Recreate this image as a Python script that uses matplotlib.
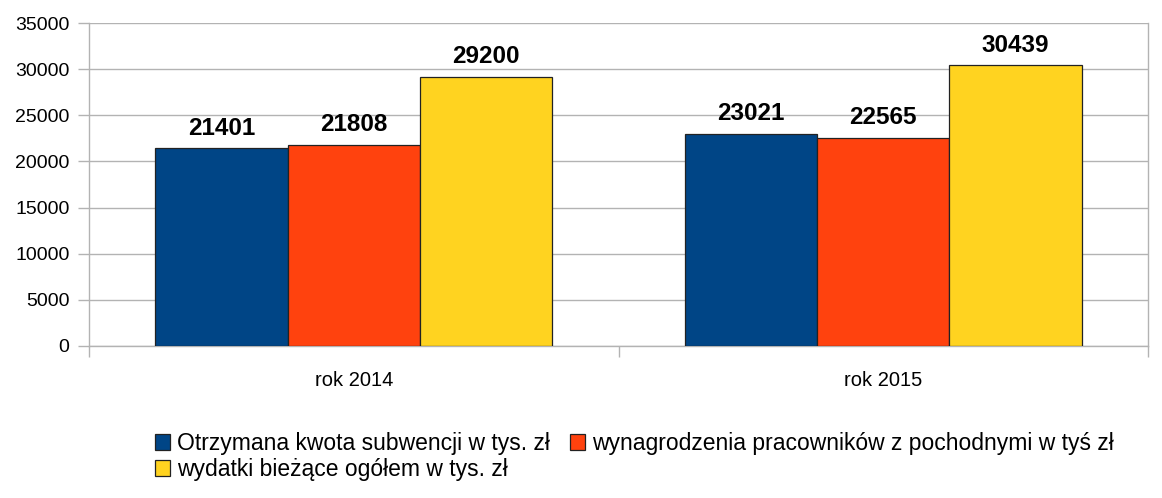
import numpy as np
import matplotlib.pyplot as plt

plt.rcParams["font.family"] = ["Liberation Sans", "DejaVu Sans"]

categories = ["rok 2014", "rok 2015"]
series_labels = [
    "Otrzymana kwota subwencji w tys. zł",
    "wynagrodzenia pracowników z pochodnymi w tyś zł",
    "wydatki bieżące ogółem w tys. zł",
]
subwencja = [21401, 23021]
wynagrodzenia = [21808, 22565]
wydatki = [29200, 30439]
colors = ["#004586", "#ff420e", "#ffd320"]

grid_color = "#b3b3b3"

fig = plt.figure(figsize=(11.62, 4.98), dpi=100)
ax = fig.add_axes([89 / 1162, 1 - 346 / 498, (1148 - 89) / 1162, (346 - 23) / 498])

x = np.arange(len(categories)) + 0.5
width = 0.25
handles = []
for i, (vals, label, color) in enumerate(zip([subwencja, wynagrodzenia, wydatki], series_labels, colors)):
    bars = ax.bar(x + (i - 1) * width, vals, width, color=color, edgecolor="#222222",
                  linewidth=0.9, label=label, zorder=3)
    handles.append(bars)
    for rect, v in zip(bars, vals):
        ax.annotate(f"{v}", (rect.get_x() + rect.get_width() / 2, v),
                    xytext=(0, 6), textcoords="offset points", ha="center", va="bottom",
                    fontsize=17.5, fontweight="bold")

ax.set_xlim(0, 2)
ax.set_ylim(0, 35000)
ax.set_yticks(np.arange(0, 35001, 5000))
ax.yaxis.grid(True, color=grid_color, linewidth=1, zorder=0)
ax.set_axisbelow(True)

ax.set_xticks([0, 1, 2])
ax.set_xticklabels([])
ax.set_xticks(x, minor=True)
ax.set_xticklabels(categories, minor=True)
ax.tick_params(axis="x", which="major", length=8, color=grid_color, width=1)
ax.tick_params(axis="x", which="minor", length=0, pad=18, labelsize=14.5)
ax.tick_params(axis="y", length=8, color=grid_color, width=1, labelsize=14, pad=6)

for side in ["left", "right", "bottom"]:
    ax.spines[side].set_color(grid_color)
    ax.spines[side].set_linewidth(1)
ax.spines["top"].set_visible(False)

# column-major fill: order so that row 1 has items 1,2 and row 2 has item 3
order = [0, 2, 1]
leg = fig.legend([handles[i] for i in order], [series_labels[i] for i in order],
                 ncol=2, loc="upper left", bbox_to_anchor=(146 / 1162, 1 - 423 / 498),
                 frameon=False, fontsize=16.5, handlelength=0.65, handleheight=0.65,
                 handletextpad=0.3, columnspacing=0.9, labelspacing=0.12, borderaxespad=0)

fig.savefig("out.png", dpi=100)
